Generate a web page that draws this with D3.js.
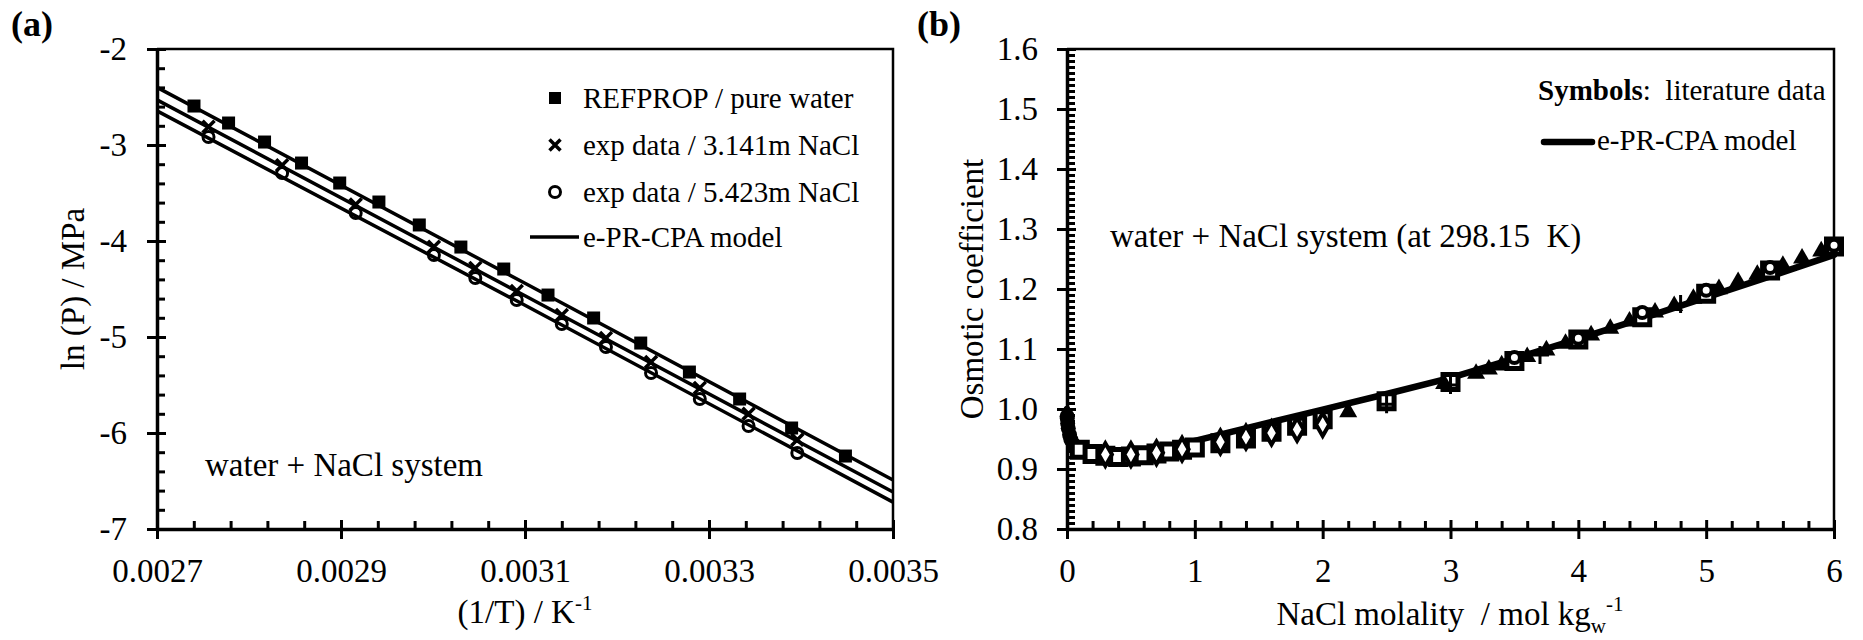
<!DOCTYPE html>
<html>
<head>
<meta charset="utf-8">
<script src="https://cdn.jsdelivr.net/npm/d3@7"></script>
<style>
  body { margin: 0; background: #fff; }
  text { font-family: "Liberation Serif", "Times New Roman", serif; fill: #000; }
</style>
</head>
<body>
<div id="chart"></div>
<script>
// ---------- panel (a): vapour pressure ----------
const invTRef = [0.0027402, 0.0027778, 0.0028169, 0.0028571, 0.0028986, 0.0029412, 0.0029851, 0.0030303,
                 0.0030769, 0.0031250, 0.0031746, 0.0032258, 0.0032787, 0.0033333, 0.0033898, 0.0034483];
const lnPRef = [-2.594, -2.771, -2.969, -3.188, -3.396, -3.594, -3.833, -4.063,
                -4.292, -4.563, -4.802, -5.063, -5.365, -5.646, -5.948, -6.240];

const invTExp = [0.002756, 0.002836, 0.002916, 0.003001, 0.003046, 0.003091, 0.003140, 0.003188,
                 0.003237, 0.003290, 0.003343, 0.003396];
const lnP3141 = [-2.81, -3.21, -3.62, -4.06, -4.28, -4.52, -4.77, -5.01, -5.26, -5.53, -5.80, -6.07];
const lnP5423 = [-2.917, -3.292, -3.708, -4.146, -4.385, -4.615, -4.865, -5.104, -5.375, -5.646, -5.927, -6.208];

const modelInvT = [0.0027, 0.0031, 0.0035];
const modelPure = [-2.40, -4.44, -6.49];
const model3141 = [-2.53, -4.57, -6.615];
const model5423 = [-2.645, -4.67, -6.72];

const legendA = ['REFPROP / pure water', 'exp data / 3.141m NaCl', 'exp data / 5.423m NaCl', 'e-PR-CPA model'];

// ---------- panel (b): osmotic coefficient ----------
const mSq = [0.1, 0.2, 0.3, 0.4, 0.5, 0.6, 0.7, 0.8, 0.9, 1.0, 1.2, 1.4, 1.6, 1.8, 2.0, 2.5, 3.0, 3.5, 4.0, 4.5, 5.0, 5.5, 6.0];
const phiSq = [0.932, 0.925, 0.922, 0.920, 0.921, 0.923, 0.926, 0.929, 0.932, 0.936, 0.943, 0.951, 0.962, 0.972, 0.983,
               1.013, 1.045, 1.080, 1.116, 1.153, 1.192, 1.231, 1.271];

const mCirc = [3.5, 4.0, 4.5, 5.0, 5.5, 6.0];
const phiCirc = [1.086, 1.118, 1.161, 1.198, 1.236, 1.273];

const mTri = [2.2, 2.95, 3.2, 3.3, 3.4, 3.6, 3.75, 3.9, 4.1, 4.25, 4.4, 4.6, 4.75, 4.9, 5.1, 5.25, 5.4, 5.6, 5.75, 5.9];
const phiTri = [0.995, 1.042, 1.059, 1.066, 1.073, 1.087, 1.098, 1.109, 1.123, 1.134, 1.146, 1.161, 1.172, 1.184,
                1.200, 1.212, 1.224, 1.239, 1.251, 1.263];

const mDia = [0.3, 0.5, 0.7, 0.9, 1.2, 1.4, 1.6, 1.8, 2.0];
const phiDia = [0.924, 0.924, 0.927, 0.933, 0.945, 0.953, 0.960, 0.966, 0.974];

const mDot = [0.001, 0.002, 0.005, 0.01, 0.02, 0.03, 0.05, 0.07, 0.1];
const phiDot = [0.988, 0.984, 0.976, 0.968, 0.957, 0.949, 0.941, 0.936, 0.932];

const mPlus = [2.5, 3.0, 3.7, 4.8];
const phiPlus = [1.008, 1.040, 1.090, 1.175];

const modelM = [0, 0.01, 0.03, 0.06, 0.1, 0.15, 0.2, 0.3, 0.4, 0.5, 0.7, 1.0, 1.5, 2.0, 2.5, 3.0, 3.5, 4.0, 4.5, 5.0, 5.5, 6.0];
const modelPhi = [1.0, 0.975, 0.958, 0.945, 0.936, 0.930, 0.927, 0.924, 0.923, 0.924, 0.930, 0.947, 0.973, 0.999,
                  1.025, 1.052, 1.084, 1.117, 1.151, 1.186, 1.221, 1.257];

const xTicksA = [0.0027, 0.0029, 0.0031, 0.0033, 0.0035];
const yTicksA = [-7, -6, -5, -4, -3, -2];
const xTicksB = [0, 1, 2, 3, 4, 5, 6];
const yTicksB = [0.8, 0.9, 1.0, 1.1, 1.2, 1.3, 1.4, 1.5, 1.6];

const W = 1863, H = 640;
const FONT = '"Liberation Serif", "Times New Roman", serif';

const svg = d3.select('#chart').append('svg')
  .attr('width', W).attr('height', H)
  .style('background', '#fff');

function makePanel(cfg) {
  const g = svg.append('g');
  const x = d3.scaleLinear().domain(cfg.xDomain).range(cfg.xRange);
  const y = d3.scaleLinear().domain(cfg.yDomain).range(cfg.yRange);
  const [x0, x1] = cfg.xRange, [y0, y1] = cfg.yRange;

  // thin frame on top and right
  g.append('path')
    .attr('d', `M${x0},${y1}H${x1}V${y0}`)
    .attr('fill', 'none').attr('stroke', '#000').attr('stroke-width', 2.5);

  // minor ticks, inside
  const mx = g.append('g').attr('transform', `translate(0,${y0})`)
    .call(d3.axisTop(x).tickValues(cfg.xMinor).tickSize(8).tickFormat(''));
  const my = g.append('g').attr('transform', `translate(${x0},0)`)
    .call(d3.axisRight(y).tickValues(cfg.yMinor).tickSize(8).tickFormat(''));
  [mx, my].forEach(a => {
    a.select('.domain').remove();
    a.selectAll('line').attr('stroke-width', 3);
  });

  // major ticks crossing the axis
  const ax = g.append('g').attr('transform', `translate(0,${y0})`)
    .call(d3.axisBottom(x).tickValues(cfg.xTicks).tickFormat(cfg.xFmt)
      .tickSize(10).tickPadding(20).tickSizeOuter(0));
  ax.selectAll('.tick line').attr('y1', -9).attr('stroke-width', 3);

  const ay = g.append('g').attr('transform', `translate(${x0},0)`)
    .call(d3.axisLeft(y).tickValues(cfg.yTicks).tickFormat(cfg.yFmt)
      .tickSize(10).tickPadding(cfg.yPad).tickSizeOuter(0));
  ay.selectAll('.tick line').attr('x1', 9).attr('stroke-width', 3);

  [ax, ay].forEach(a => {
    a.attr('font-family', FONT).attr('font-size', 33);
    a.select('.domain').attr('stroke-width', 3.5);
    a.selectAll('text').attr('fill', '#000');
  });

  return { g, x, y };
}

// ================= (a) =================
const pa = makePanel({
  xDomain: [0.0027, 0.0035], xRange: [157, 893],
  yDomain: [-7, -2], yRange: [529, 49],
  xTicks: xTicksA, yTicks: yTicksA,
  xMinor: d3.range(0, 21).map(i => 0.0027 + i * 0.00004).filter((d, i) => i % 5 !== 0),
  yMinor: d3.range(0, 26).map(i => -7 + i * 0.2).filter((d, i) => i % 5 !== 0),
  xFmt: d3.format('.4f'), yFmt: d => String(d), yPad: 20
});

const lineA = d3.line().x(d => pa.x(d[0])).y(d => pa.y(d[1]));
[modelPure, model3141, model5423].forEach(s => {
  pa.g.append('path')
    .attr('d', lineA(modelInvT.map((t, i) => [t, s[i]])))
    .attr('fill', 'none').attr('stroke', '#000').attr('stroke-width', 3.5);
});

const crossPath = r => `M${-r},${-r}L${r},${r}M${-r},${r}L${r},${-r}`;

pa.g.append('g').selectAll('rect')
  .data(invTRef.map((t, i) => [t, lnPRef[i]]))
  .join('rect')
  .attr('x', d => pa.x(d[0]) - 6.5).attr('y', d => pa.y(d[1]) - 6.5)
  .attr('width', 13).attr('height', 13).attr('fill', '#000');

pa.g.append('g').selectAll('path')
  .data(invTExp.map((t, i) => [t, lnP3141[i]]))
  .join('path')
  .attr('transform', d => `translate(${pa.x(d[0])},${pa.y(d[1])})`)
  .attr('d', crossPath(6)).attr('stroke', '#000').attr('stroke-width', 3.5).attr('fill', 'none');

pa.g.append('g').selectAll('circle')
  .data(invTExp.map((t, i) => [t, lnP5423[i]]))
  .join('circle')
  .attr('cx', d => pa.x(d[0])).attr('cy', d => pa.y(d[1]))
  .attr('r', 5.5).attr('fill', 'none').attr('stroke', '#000').attr('stroke-width', 3);

// legend (a)
const legA = pa.g.append('g');
const legAy = [108, 155, 202, 247];
legA.append('rect').attr('x', 549).attr('y', 92).attr('width', 12).attr('height', 12).attr('fill', '#000');
legA.append('path').attr('transform', 'translate(555,145)').attr('d', crossPath(5.5))
  .attr('stroke', '#000').attr('stroke-width', 3.5);
legA.append('circle').attr('cx', 555).attr('cy', 192).attr('r', 5.5)
  .attr('fill', 'none').attr('stroke', '#000').attr('stroke-width', 3);
legA.append('line').attr('x1', 530).attr('x2', 579).attr('y1', 237).attr('y2', 237)
  .attr('stroke', '#000').attr('stroke-width', 3.5);
legA.selectAll('text').data(legendA).join('text')
  .attr('x', 583).attr('y', (d, i) => legAy[i]).attr('font-size', 29).text(d => d);

pa.g.append('text').attr('x', 205).attr('y', 476).attr('font-size', 33).text('water + NaCl system');

// axis titles (a)
const xtA = svg.append('text').attr('x', 525).attr('y', 623).attr('text-anchor', 'middle').attr('font-size', 33);
xtA.append('tspan').text('(1/T) / K');
xtA.append('tspan').attr('font-size', 21).attr('dy', -13).text('-1');

svg.append('text').attr('transform', 'translate(84,289) rotate(-90)')
  .attr('text-anchor', 'middle').attr('font-size', 33).text('ln (P) / MPa');

svg.append('text').attr('x', 11).attr('y', 36).attr('font-size', 36).attr('font-weight', 'bold').text('(a)');

// ================= (b) =================
const pb = makePanel({
  xDomain: [0, 6], xRange: [1067, 1834],
  yDomain: [0.8, 1.6], yRange: [529, 49],
  xTicks: xTicksB, yTicks: yTicksB,
  xMinor: d3.range(0, 31).map(i => i * 0.2).filter((d, i) => i % 5 !== 0),
  yMinor: d3.range(0, 81).map(i => 0.8 + i * 0.01).filter((d, i) => i % 10 !== 0),
  xFmt: d => String(d), yFmt: d3.format('.1f'), yPad: 19
});

const lineB = d3.line().x(d => pb.x(d[0])).y(d => pb.y(d[1]));
pb.g.append('path')
  .attr('d', lineB(modelM.map((m, i) => [m, modelPhi[i]])))
  .attr('fill', 'none').attr('stroke', '#000').attr('stroke-width', 6.5)
  .attr('stroke-linejoin', 'round').attr('stroke-linecap', 'round');

const sym = (type, size) => d3.symbol().type(type).size(size)();

pb.g.append('g').selectAll('circle')
  .data(mDot.map((m, i) => [m, phiDot[i]]))
  .join('circle')
  .attr('cx', d => pb.x(d[0])).attr('cy', d => pb.y(d[1])).attr('r', 7.5).attr('fill', '#000');

pb.g.append('g').selectAll('path')
  .data(mSq.map((m, i) => [m, phiSq[i]]))
  .join('path')
  .attr('transform', d => `translate(${pb.x(d[0])},${pb.y(d[1])})`)
  .attr('d', sym(d3.symbolSquare, 225))
  .attr('fill', '#fff').attr('stroke', '#000').attr('stroke-width', 5);

pb.g.append('g').selectAll('path')
  .data(mTri.map((m, i) => [m, phiTri[i]]))
  .join('path')
  .attr('transform', d => `translate(${pb.x(d[0])},${pb.y(d[1])})`)
  .attr('d', sym(d3.symbolTriangle, 140)).attr('fill', '#000');

pb.g.append('g').selectAll('path')
  .data(mDia.map((m, i) => [m, phiDia[i]]))
  .join('path')
  .attr('transform', d => `translate(${pb.x(d[0])},${pb.y(d[1])})`)
  .attr('d', sym(d3.symbolDiamond, 150))
  .attr('fill', '#fff').attr('stroke', '#000').attr('stroke-width', 4);

pb.g.append('g').selectAll('circle')
  .data(mCirc.map((m, i) => [m, phiCirc[i]]))
  .join('circle')
  .attr('cx', d => pb.x(d[0])).attr('cy', d => pb.y(d[1])).attr('r', 5.5)
  .attr('fill', '#fff').attr('stroke', '#000').attr('stroke-width', 4);

pb.g.append('g').selectAll('path')
  .data(mPlus.map((m, i) => [m, phiPlus[i]]))
  .join('path')
  .attr('transform', d => `translate(${pb.x(d[0])},${pb.y(d[1])})`)
  .attr('d', 'M-9,0H9M0,-9V9').attr('stroke', '#000').attr('stroke-width', 3);

// legend (b)
const lb = svg.append('text').attr('x', 1538).attr('y', 100).attr('font-size', 29);
lb.append('tspan').attr('font-weight', 'bold').text('Symbols');
lb.append('tspan').text(':\u00a0 literature data');
svg.append('line').attr('x1', 1544).attr('x2', 1592).attr('y1', 142).attr('y2', 142)
  .attr('stroke', '#000').attr('stroke-width', 6.5).attr('stroke-linecap', 'round');
svg.append('text').attr('x', 1597).attr('y', 150).attr('font-size', 29).text('e-PR-CPA model');

svg.append('text').attr('x', 1110).attr('y', 247).attr('font-size', 33)
  .text('water + NaCl system (at 298.15\u00a0 K)');

// axis titles (b)
const xtB = svg.append('text').attr('x', 1450).attr('y', 625).attr('text-anchor', 'middle').attr('font-size', 33);
xtB.append('tspan').text('NaCl molality\u00a0 / mol kg');
xtB.append('tspan').attr('font-size', 21).attr('dy', 8).text('w');
xtB.append('tspan').attr('font-size', 21).attr('dy', -22).text('-1');

svg.append('text').attr('transform', 'translate(983,289) rotate(-90)')
  .attr('text-anchor', 'middle').attr('font-size', 33).text('Osmotic coefficient');

svg.append('text').attr('x', 917).attr('y', 36).attr('font-size', 36).attr('font-weight', 'bold').text('(b)');
</script>
</body>
</html>
